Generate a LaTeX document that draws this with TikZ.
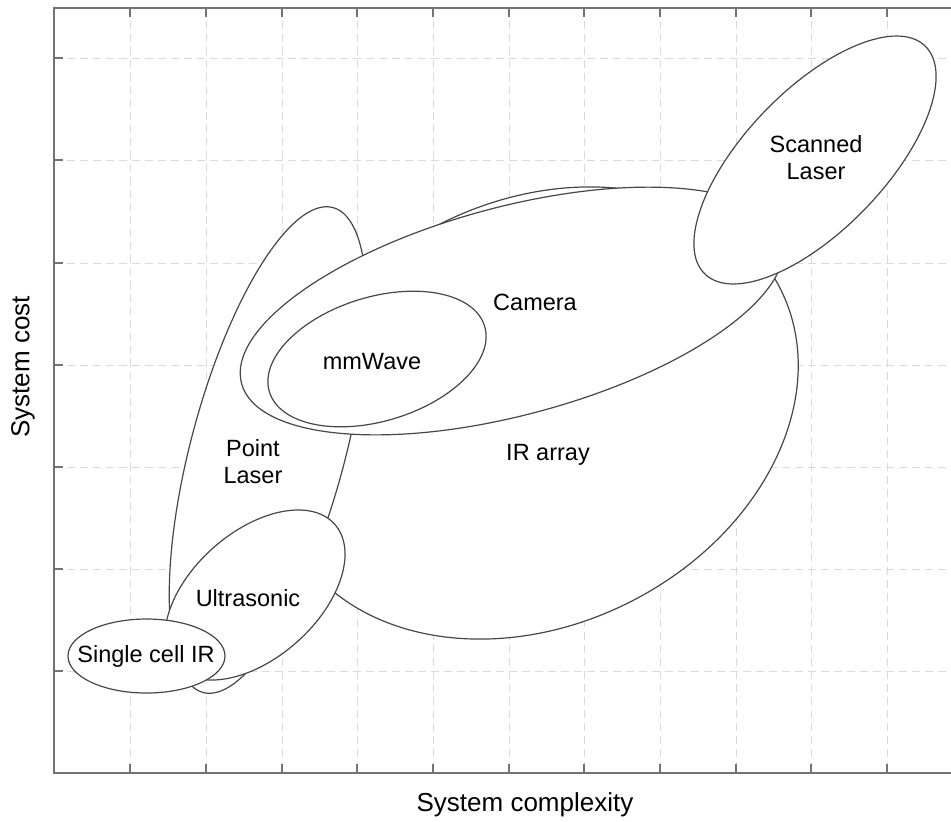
\documentclass[tikz,border=0pt]{standalone}
\usepackage{fontspec}
\setmainfont{Liberation Sans}
\usetikzlibrary{positioning}

\begin{document}
\begin{tikzpicture}[
  x=0.5pt, y=-0.5pt,
  gridln/.style={draw=black!14, line width=0.5pt, dash pattern=on 4pt off 2.5pt},
  axln/.style={draw=black!55, line width=0.8pt},
  blob/.style={draw=black!72, fill=white, line width=0.6pt},
  lbl/.style={font=\fontsize{11.75}{13.5}\selectfont, align=center, inner sep=0pt},
  axlbl/.style={font=\fontsize{13}{15.6}\selectfont, inner sep=0pt}
]
\useasboundingbox (0,0) rectangle (951,821);
% grid
\foreach \gx in {130,206,282,357,433,509,584,660,736,811,887}
  \draw[gridln] (\gx,8) -- (\gx,773);
\foreach \gy in {58,160,263,365,467,569,671}
  \draw[gridln] (54,\gy) -- (951,\gy);
% frame + ticks
\draw[axln] (951,8) -- (54,8) -- (54,773) -- (951,773);
\foreach \gx in {130,206,282,357,433,509,584,660,736,811,887} {
  \draw[axln] (\gx,8) -- (\gx,17);
  \draw[axln] (\gx,773) -- (\gx,764);
}
\foreach \gy in {58,160,263,365,467,569,671}
  \draw[axln] (54,\gy) -- (63,\gy);
% sensor regions, back to front
\path[blob] (535,413) ellipse [x radius=275, y radius=211.5, rotate=27];
\path[blob] (268,450) ellipse [x radius=251, y radius=77, rotate=75];
\path[blob] (512,311) ellipse [x radius=280, y radius=104, rotate=15];
\path[blob] (377,359) ellipse [x radius=112.5, y radius=62, rotate=17];
\path[blob] (255,595) ellipse [x radius=106.6, y radius=63, rotate=41.6];
\path[blob] (146.5,656) ellipse [x radius=78.5, y radius=37];
\path[blob] (815,160) ellipse [x radius=158.5, y radius=70, rotate=46];
% labels
\node[lbl] (irarr) at (548,455) {IR array};
\node[lbl] (ptlas) at (253,462) {Point\\Laser};
\node[lbl] (cam) at (535,302) {Camera};
\node[lbl] (mmw) at (372,362) {mmWave};
\node[lbl] (ultra) at (248,598) {Ultrasonic};
\node[lbl] (scir) at (146,656) {Single cell IR};
\node[lbl] (sclas) at (816,158) {Scanned\\Laser};
% axis titles
\node[axlbl] (xttl) at (525,805) {System complexity};
\node[axlbl, rotate=90] (yttl) at (23,367) {System cost};
\end{tikzpicture}
\end{document}
